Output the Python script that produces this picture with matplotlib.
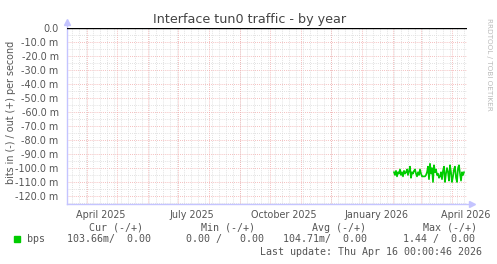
import pandas as pd
import matplotlib
matplotlib.use('Agg')
import matplotlib.pyplot as plt

# Data (bits in, shown negative, in milli-bps)
start_day = "2026-02-02"
bps_in = [
    -103, -105, -102, -106, -103, -104, -101, -105, -103, -106,
    -102, -104, -103, -101, -105, -102, -99, -107, -103, -104,
    -102, -101, -104, -106, -103, -105, -101, -104, -106, -106,
    -106, -106, -105, -103, -99, -108, -97, -104, -100, -110,
    -98, -103, -101, -105, -104, -107, -106, -103, -108, -102,
    -99, -110, -104, -100, -103, -109, -98, -103, -110, -106,
    -101, -99, -107, -110, -100, -98, -104, -109, -103, -105,
    -103,
]
x_start = "2025-03-12"
x_end = "2026-04-16"
month_labels = ["2025-04", "2025-07", "2025-10", "2026-01", "2026-04"]
y_ticks = [0, -10, -20, -30, -40, -50, -60, -70, -80, -90, -100, -110, -120]

legend_head = ["Cur (-/+)", "Min (-/+)", "Avg (-/+)", "Max (-/+)"]
legend_vals = ["103.66m/  0.00", "0.00 /   0.00", "104.71m/  0.00", "1.44 /  0.00"]
last_update = "Last update: Thu Apr 16 00:00:46 2026"

dates = pd.date_range(start_day, periods=len(bps_in), freq='D')
x0, x1 = pd.Timestamp(x_start), pd.Timestamp(x_end)

W, H = 497, 264
fig = plt.figure(figsize=(W / 100, H / 100), dpi=100)
fig.patch.set_facecolor('white')

def px(x, y):
    return x / W, 1 - y / H

ax = fig.add_axes([67 / W, 1 - 204 / H, 400 / W, 176 / H])
ax.set_xlim(x0, x1)
ax.set_ylim(-125.7, 0)

# grid
red = '#f2a8a8'
grey = '#d8d8d8'
for v in range(-125, 0, 5):
    if v % 10 != 0:
        ax.axhline(v, color=grey, lw=0.6, ls=(0, (1, 1.5)), zorder=1)
for v in y_ticks[1:]:
    ax.axhline(v, color=red, lw=0.6, ls=(0, (1, 1.5)), zorder=1)
weeks = pd.date_range(x0, x1, freq='W-MON')
for d in weeks:
    ax.axvline(d, color=grey, lw=0.6, ls=(0, (1, 1.5)), zorder=1)
months = pd.date_range("2025-04-01", x1, freq='MS')
for d in months:
    ax.axvline(d, color=red, lw=0.6, ls=(0, (1, 1.5)), zorder=1)

ax.axhline(0, color='black', lw=1.0, zorder=3)
ax.plot(dates, bps_in, color='#00cc00', lw=1.2, zorder=4)

for s in ax.spines.values():
    s.set_visible(False)
axc = '#c4c4ff'
ax.plot([0, 0], [0, 1.03], transform=ax.transAxes, color=axc, lw=1, clip_on=False)
ax.plot([0, 1.008], [0, 0], transform=ax.transAxes, color=axc, lw=1, clip_on=False)
ax.plot([0], [1.035], marker='^', ms=4, color=axc, transform=ax.transAxes, clip_on=False)
ax.plot([1.012], [0], marker='>', ms=4, color=axc, transform=ax.transAxes, clip_on=False)

ax.set_yticks(y_ticks)
ax.set_yticklabels(["0.0"] + ["%.1f m" % v for v in y_ticks[1:]])
label_pos = [pd.Timestamp(m + "-01") + pd.Timedelta(days=14) for m in month_labels]
ax.set_xticks(label_pos)
ax.set_xticklabels([pd.Timestamp(m + "-01").strftime("%B %Y") for m in month_labels])
ax.tick_params(axis='both', length=0, labelsize=6.9, colors='#555555')
ax.tick_params(axis='y', pad=6)
ax.tick_params(axis='x', pad=4)

fig.text(*px(250, 20), "Interface tun0 traffic - by year", ha='center', va='center',
         fontsize=9.2, color='#444444')
fig.text(*px(11.5, 112), "bits in (-) / out (+) per second", rotation=90,
         ha='center', va='center', fontsize=6.9, color='#555555')
fig.text(*px(489, 64), "RRDTOOL / TOBI OETIKER", rotation=-90, ha='center', va='center',
         fontsize=5.2, color='#bbbbbb')

# legend
mono = dict(family='DejaVu Sans Mono', fontsize=7.2, color='#555555', va='center')
fig.patches.append(plt.Rectangle(px(14, 242), 6 / W, 6 / H, transform=fig.transFigure,
                                 color='#00cc00'))
fig.text(*px(27, 239), "bps", **mono)
for xh, t in zip([89, 201, 312, 423], legend_head):
    fig.text(*px(xh, 228), t, **mono)
for xv, t in zip([67, 186, 283, 403], legend_vals):
    fig.text(*px(xv, 239), t, **mono)
fig.text(*px(482, 252), last_update, ha='right', **mono)

fig.savefig('out.png', dpi=100)
